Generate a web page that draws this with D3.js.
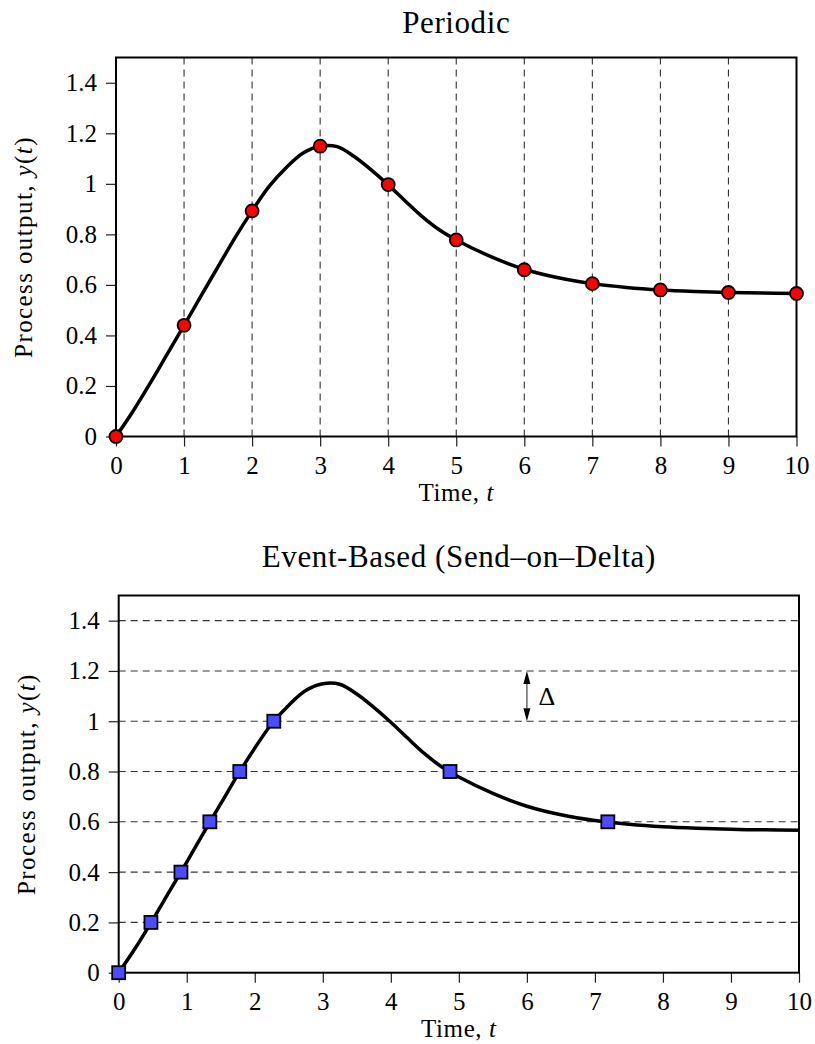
<!DOCTYPE html>
<html><head><meta charset="utf-8">
<script src="https://cdn.jsdelivr.net/npm/d3@7"></script>
<style>body{margin:0;background:#fff}</style>
</head><body><svg id="chart" width="815" height="1044"></svg>
<script>
// ---- data ----
const curveT = [0,0.25,0.5,0.75,1,1.25,1.5,1.75,2,2.25,2.5,2.75,3,3.25,3.5,3.75,4,4.25,4.5,4.75,5,5.5,6,6.5,7,7.5,8,8.5,9,9.5,10];
const curveY = [0,0.1,0.21,0.325,0.44,0.557,0.672,0.787,0.893,0.99,1.064,1.122,1.149,1.147,1.108,1.055,0.996,0.932,0.87,0.818,0.778,0.713,0.662,0.628,0.605,0.59,0.58,0.574,0.57,0.568,0.566];
const periodicT = [0,1,2,3,4,5,6,7,8,9,10];
const periodicY = [0,0.44,0.893,1.149,0.997,0.778,0.66,0.605,0.58,0.57,0.566];
const eventT = [0,0.474,0.915,1.34,1.78,2.28,4.87,7.19];
const eventY = [0,0.2,0.4,0.6,0.8,1.0,0.8,0.6];
const xTicks = [0,1,2,3,4,5,6,7,8,9,10];
const xTickLabels = ["0","1","2","3","4","5","6","7","8","9","10"];
const yTicks = [0,0.2,0.4,0.6,0.8,1,1.2,1.4];
const yTickLabels = ["0","0.2","0.4","0.6","0.8","1","1.2","1.4"];
const titles = ["Periodic","Event-Based (Send\u2013on\u2013Delta)"];
const xLabelText = "Time, ";
const xLabelVar = "t";
const yLabelText = "Process output, ";
const yLabelVar = "y";
const deltaLabel = "\u0394";
const deltaFrom = 1.0, deltaTo = 1.2, deltaAt = 6.0;

const FONT = "'Liberation Serif', 'DejaVu Serif', serif";
const svg = d3.select("#chart");

function panel(box, idx) {
  const x = d3.scaleLinear().domain([0,10]).range([box.l, box.r]);
  const y = d3.scaleLinear().domain([0,1.5]).range([box.b, box.t]);
  const g = svg.append("g");

  // grid
  if (idx === 0) {
    g.append("g").selectAll("line").data(xTicks.filter(d=>d>0 && d<10)).join("line")
      .attr("x1", d=>x(d)).attr("x2", d=>x(d)).attr("y1", box.t).attr("y2", box.b)
      .attr("stroke", "#333").attr("stroke-width", 1.1).attr("stroke-dasharray", "7,5");
  } else {
    g.append("g").selectAll("line").data(yTicks.filter(d=>d>0)).join("line")
      .attr("x1", box.l).attr("x2", box.r).attr("y1", d=>y(d)).attr("y2", d=>y(d))
      .attr("stroke", "#333").attr("stroke-width", 1.1).attr("stroke-dasharray", "7,5");
  }

  // axes
  const xa = g.append("g").attr("transform", `translate(0,${box.b})`)
    .call(d3.axisBottom(x).tickValues(xTicks).tickSize(10).tickPadding(10)
      .tickFormat((d,i)=>xTickLabels[i]));
  const ya = g.append("g").attr("transform", `translate(${box.l},0)`)
    .call(d3.axisLeft(y).tickValues(yTicks).tickSize(10).tickPadding(9)
      .tickFormat((d,i)=>yTickLabels[i]));
  [xa, ya].forEach(a => {
    a.attr("font-family", FONT);
    a.select(".domain").remove();
    a.selectAll(".tick line").attr("stroke", "#222").attr("stroke-width", 1.2);
    a.selectAll(".tick text").attr("font-family", FONT).attr("font-size", 25).attr("fill", "#000");
  });

  // frame
  g.append("rect").attr("x", box.l).attr("y", box.t)
    .attr("width", box.r - box.l).attr("height", box.b - box.t)
    .attr("fill", "none").attr("stroke", "#000").attr("stroke-width", 2);

  // curve
  const pts = curveT.map((t,i)=>[t, curveY[i]]);
  g.append("path").datum(pts)
    .attr("d", d3.line().x(d=>x(d[0])).y(d=>y(d[1])).curve(d3.curveCatmullRom.alpha(0.5)))
    .attr("fill", "none").attr("stroke", "#000").attr("stroke-width", 3.5)
    .attr("stroke-linejoin", "round");

  // markers
  if (idx === 0) {
    g.append("g").selectAll("circle").data(periodicT.map((t,i)=>[t, periodicY[i]])).join("circle")
      .attr("cx", d=>x(d[0])).attr("cy", d=>y(d[1])).attr("r", 6.5)
      .attr("fill", "#ff0000").attr("stroke", "#000").attr("stroke-width", 1.8);
  } else {
    const s = 13;
    g.append("g").selectAll("rect").data(eventT.map((t,i)=>[t, eventY[i]])).join("rect")
      .attr("x", d=>x(d[0]) - s/2).attr("y", d=>y(d[1]) - s/2).attr("width", s).attr("height", s)
      .attr("fill", "#4b4bff").attr("stroke", "#000").attr("stroke-width", 1.8);

    // delta arrow
    const ax = x(deltaAt), y1 = y(deltaTo), y2 = y(deltaFrom);
    const hl = 13, hw = 3.5;
    g.append("line").attr("x1", ax).attr("x2", ax).attr("y1", y1 + hl).attr("y2", y2 - hl)
      .attr("stroke", "#666").attr("stroke-width", 1.5);
    g.append("path").attr("d", `M${ax},${y1}L${ax-hw},${y1+hl}L${ax+hw},${y1+hl}Z`).attr("fill", "#000");
    g.append("path").attr("d", `M${ax},${y2}L${ax-hw},${y2-hl}L${ax+hw},${y2-hl}Z`).attr("fill", "#000");
    g.append("text").attr("x", x(deltaAt + 0.17)).attr("y", y((deltaFrom + deltaTo)/2))
      .attr("dy", "0.35em").attr("font-family", FONT).attr("font-size", 26).text(deltaLabel);
  }

  // title
  g.append("text").attr("x", (box.l + box.r)/2).attr("y", box.titleY)
    .attr("text-anchor", "middle").attr("font-family", FONT).attr("font-size", 31)
    .attr("letter-spacing", 0.6).text(titles[idx]);

  // x label
  const xl = g.append("text").attr("x", (box.l + box.r)/2).attr("y", box.xlabY)
    .attr("text-anchor", "middle").attr("font-family", FONT).attr("font-size", 25).attr("letter-spacing", 0.6);
  xl.append("tspan").text(xLabelText);
  xl.append("tspan").attr("font-style", "italic").text(xLabelVar);

  // y label
  const yl = g.append("text")
    .attr("transform", `translate(${box.ylabX},${(box.t + box.b)/2}) rotate(-90)`)
    .attr("text-anchor", "middle").attr("font-family", FONT).attr("font-size", 25).attr("letter-spacing", 1.4);
  yl.append("tspan").text(yLabelText);
  yl.append("tspan").attr("font-style", "italic").text(yLabelVar);
  yl.append("tspan").text("(");
  yl.append("tspan").attr("font-style", "italic").text("t");
  yl.append("tspan").text(")");
}

panel({l:116, r:796.5, t:57.5, b:436.5, titleY:33, xlabY:501, ylabX:32}, 0);
panel({l:118.7, r:799, t:595.5, b:972.7, titleY:567, xlabY:1037, ylabX:35}, 1);
</script></body></html>
